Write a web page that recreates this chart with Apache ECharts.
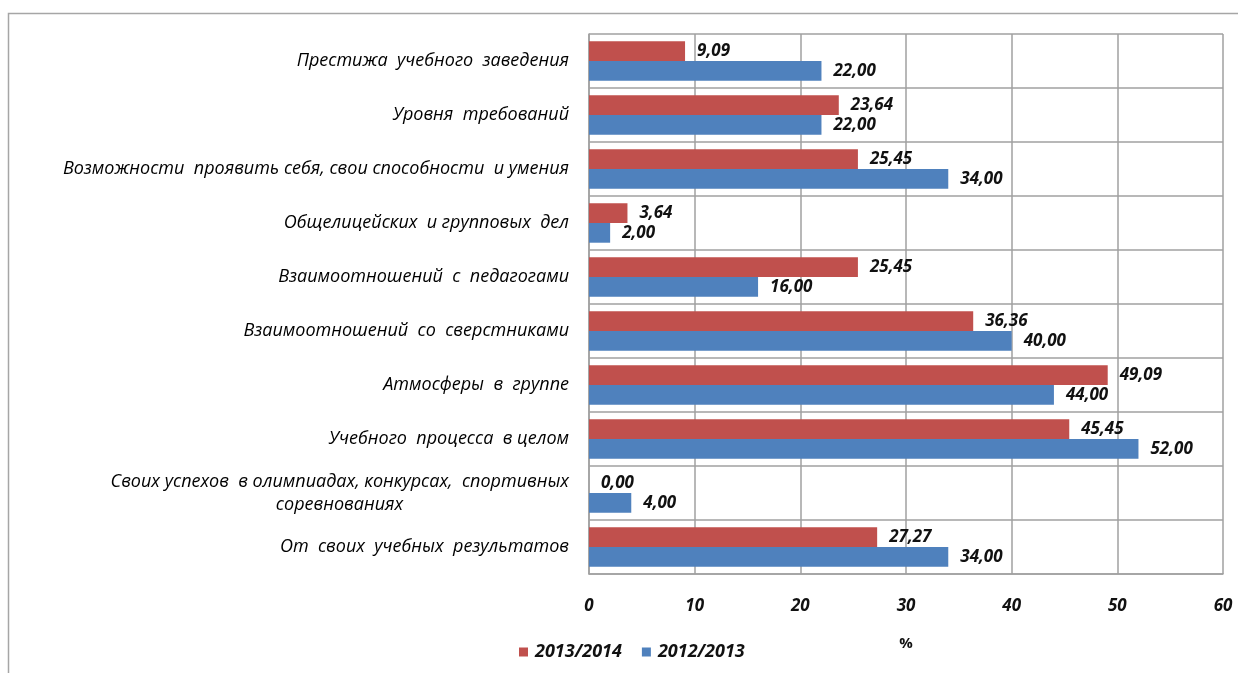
<!DOCTYPE html>
<html><head><meta charset="utf-8">
<script src="https://cdn.jsdelivr.net/npm/echarts@6/dist/echarts.min.js"></script>
<style>html,body{margin:0;padding:0;background:#fff}#c{width:1238px;height:673px}</style>
</head><body><div id="c"></div>
<script>
const categories = [
  'Престижа  учебного  заведения',
  'Уровня  требований',
  'Возможности  проявить себя, свои способности  и умения',
  'Общелицейских  и групповых  дел',
  'Взаимоотношений  с  педагогами',
  'Взаимоотношений  со  сверстниками',
  'Атмосферы  в  группе',
  'Учебного  процесса  в целом',
  'Своих успехов  в олимпиадах, конкурсах,  спортивных\nсоревнованиях',
  'От  своих  учебных  результатов'
];
const series2014 = [9.09, 23.64, 25.45, 3.64, 25.45, 36.36, 49.09, 45.45, 0.00, 27.27];
const series2013 = [22.00, 22.00, 34.00, 2.00, 16.00, 40.00, 44.00, 52.00, 4.00, 34.00];
const seriesNames = ['2013/2014', '2012/2013'];
const xMin = 0, xMax = 60, xInterval = 10;

const FONT = '"Open Sans", sans-serif';
const CAT_SIZE = 18;
const measure = (t) => {
  const c = document.createElement('canvas').getContext('2d');
  c.font = 'italic ' + CAT_SIZE + 'px "Open Sans"';
  return Math.ceil(c.measureText(t).width);
};
const chart = echarts.init(document.getElementById('c'));
const fmt = p => p.value.toFixed(2).replace('.', ',');
const valueLabel = {
  show: true, position: 'right', distance: 12, formatter: fmt,
  fontFamily: FONT, fontStyle: 'italic', fontWeight: 'bold', fontSize: 17, color: '#111'
};
chart.setOption({
  animation: false,
  backgroundColor: '#fff',
  graphic: [{
    type: 'rect', shape: {x: 8.5, y: 13.5, width: 1300, height: 720},
    style: {fill: 'none', stroke: '#a6a6a6', lineWidth: 1.5}, silent: true
  }],
  grid: {left: 589, top: 34, right: 15, bottom: 99, containLabel: false},
  legend: {
    left: 514, top: 638, itemWidth: 9, itemHeight: 9, itemGap: 20,
    icon: 'rect',
    textStyle: {fontFamily: FONT, fontStyle: 'italic', fontWeight: 'bold', fontSize: 18, color: '#111', padding: [0, 0, 0, 2]},
    data: seriesNames
  },
  xAxis: {
    type: 'value', min: xMin, max: xMax, interval: xInterval,
    name: '%', nameLocation: 'middle', nameGap: 62,
    nameTextStyle: {fontFamily: FONT, fontWeight: 'bold', fontSize: 15, color: '#111'},
    axisLine: {show: true, lineStyle: {color: '#a0a0a0', width: 1.5}},
    axisTick: {show: false},
    axisLabel: {margin: 24, fontFamily: FONT, fontStyle: 'italic', fontWeight: 'bold', fontSize: 17, color: '#111'},
    splitLine: {show: true, lineStyle: {color: '#a0a0a0', width: 1.5}}
  },
  yAxis: {
    type: 'category', inverse: true, data: categories,
    axisLine: {show: true, lineStyle: {color: '#a0a0a0', width: 1.5}},
    axisTick: {show: false},
    splitLine: {show: true, lineStyle: {color: '#a0a0a0', width: 1.5}},
    axisLabel: {
      margin: 20, fontFamily: FONT, fontStyle: 'italic', fontSize: CAT_SIZE, color: '#000', lineHeight: 23,
      formatter: v => {
        if (v.indexOf('\n') >= 0) {
          const parts = v.split('\n');
          return '{a|' + parts[0] + '}\n{b|' + parts[1] + '}';
        }
        return v;
      },
      rich: (() => {
        const first = categories.find(c => c.indexOf('\n') >= 0).split('\n')[0];
        const w = measure(first);
        return {
          a: {fontFamily: FONT, fontStyle: 'italic', fontSize: CAT_SIZE, color: '#000', lineHeight: 23},
          b: {fontFamily: FONT, fontStyle: 'italic', fontSize: CAT_SIZE, color: '#000', lineHeight: 23, width: w, align: 'center'}
        };
      })()
    }
  },
  series: [
    {name: seriesNames[0], type: 'bar', data: series2014, barGap: '0%', barCategoryGap: '27%',
     itemStyle: {color: '#C0504D'}, label: valueLabel},
    {name: seriesNames[1], type: 'bar', data: series2013, barGap: '0%', barCategoryGap: '27%',
     itemStyle: {color: '#4F81BD'}, label: valueLabel}
  ]
});
</script></body></html>
